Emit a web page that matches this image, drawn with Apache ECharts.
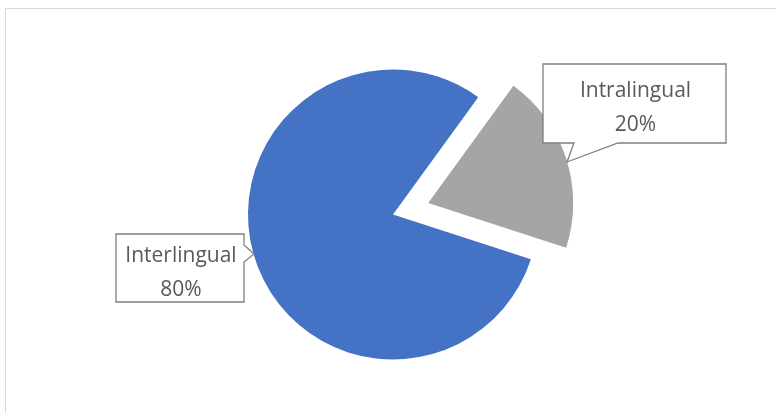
<!DOCTYPE html>
<html>
<head>
<meta charset="utf-8">
<script src="https://cdn.jsdelivr.net/npm/echarts@6/dist/echarts.min.js"></script>
<style>
  html, body { margin: 0; padding: 0; background: #ffffff; }
  #chart { width: 776px; height: 413px; }
</style>
</head>
<body>
<div id="chart"></div>
<script>
// Share of each translation type (percent)
const categories = ['Interlingual', 'Intralingual'];
const values = [80, 20];
const colors = ['#4472C4', '#A5A5A5'];

// Callout boxes for the labels: box rectangle and the pointer tail
const callouts = [
  { box: [116, 234, 244, 302], tail: [[244, 245], [254, 254], [244, 262]], side: 'right' },
  { box: [543, 64, 726, 143], tail: [[574, 143], [567, 162], [618, 143]], side: 'bottom' }
];

function calloutPoints(c) {
  const [x0, y0, x1, y1] = c.box;
  const t = c.tail;
  if (c.side === 'right') {
    return [[x0, y0], [x1, y0], t[0], t[1], t[2], [x1, y1], [x0, y1]];
  }
  return [[x0, y0], [x1, y0], [x1, y1], t[2], t[1], t[0], [x0, y1]];
}

const total = values.reduce((a, b) => a + b, 0);

const calloutShapes = callouts.map(c => ({
  type: 'polygon',
  shape: { points: calloutPoints(c) },
  style: { fill: '#ffffff', stroke: '#7f7f7f', lineWidth: 1.3 },
  z: 50
}));

const calloutTexts = callouts.map((c, i) => ({
  type: 'text',
  x: (c.box[0] + c.box[2]) / 2 + 1,
  y: (c.box[1] + c.box[3]) / 2 + 5,
  style: {
    text: categories[i] + '\n' + Math.round(values[i] / total * 100) + '%',
    fontFamily: 'Open Sans',
    fontSize: 21,
    lineHeight: 34,
    fill: '#595959',
    align: 'center',
    verticalAlign: 'middle'
  },
  z: 60
}));

const chart = echarts.init(document.getElementById('chart'), null, { renderer: 'canvas' });

chart.setOption({
  animation: false,
  backgroundColor: '#ffffff',
  graphic: [
    {
      type: 'rect',
      shape: { x: 5.5, y: 8.5, width: 800, height: 420 },
      style: { fill: 'none', stroke: '#d9d9d9', lineWidth: 1 },
      z: 0
    }
  ].concat(calloutShapes, calloutTexts),
  series: [{
    type: 'pie',
    center: [393, 214.5],
    radius: 145,
    startAngle: -18,
    clockwise: true,
    selectedMode: 'multiple',
    selectedOffset: 37,
    silent: true,
    z: 10,
    data: categories.map((name, i) => ({
      name: name,
      value: values[i],
      selected: i === 1,
      itemStyle: { color: colors[i] }
    })),
    label: { show: false },
    labelLine: { show: false }
  }]
});
</script>
</body>
</html>
